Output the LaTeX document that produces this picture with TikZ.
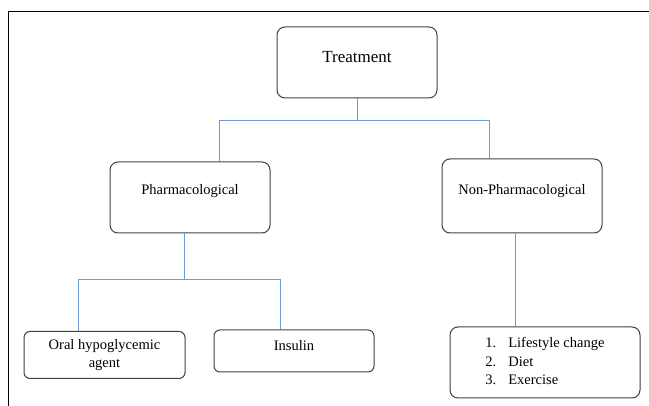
\documentclass[tikz,border=0pt]{standalone}
\usepackage{fontspec}
\setmainfont{Liberation Serif}
\definecolor{linkblue}{RGB}{110,155,210}
\begin{document}
\begin{tikzpicture}[x=1pt,y=-1pt,
    box/.style={draw=black!75,line width=1pt,rounded corners=8pt,inner sep=0pt},
    link/.style={draw=linkblue,line width=1pt},
    txt/.style={font=\fontsize{14.5}{18.5}\selectfont}]
        \useasboundingbox (0,0) rectangle (649,406);
        \draw[line width=1pt](8,406)--(8,12)--(649,12);
        \node[box,minimum width=160pt,text height=36pt,text depth=35pt,font=\fontsize{17}{20}\selectfont](1)at(357,62.5){Treatment};
        \node[box,txt,minimum width=160pt,text height=33pt,text depth=38pt](2)at(190,197.5){Pharmacological};
        \node[box,txt,minimum width=160pt,text height=36pt,text depth=38pt](3)at(522,196){Non-Pharmacological};
        \node[box,txt,rounded corners=6pt,minimum width=161pt,minimum height=47pt,align=center](4)at(104.5,355){Oral hypoglycemic\\agent};
        \node[box,txt,rounded corners=6pt,minimum width=160pt,text height=21pt,text depth=21pt](5)at(294,351){Insulin};
        \node[box,txt,minimum width=190pt,minimum height=71pt](6)at(545,362.5){\begin{tabular}{@{}l@{\hspace{12pt}}l@{}}1.&Lifestyle change\\2.&Diet\\3.&Exercise\end{tabular}};
        \coordinate(a)at(219,121);
        \coordinate(b)at(489,121);
        \coordinate(c)at(78,280);
        \coordinate(d)at(280,280);
        \draw[link](1)--(1|-a);
        \draw[link](2.north-|a)--(a)--(b)--(3.north-|b);
        \draw[link](2.south-|184,0)--(184,280);
        \draw[link](4.north-|c)--(c)--(d)--(5.north-|d);
        \draw[link](3.south-|515,0)--(6.north-|515,0);
    \end{tikzpicture}
\end{document}
